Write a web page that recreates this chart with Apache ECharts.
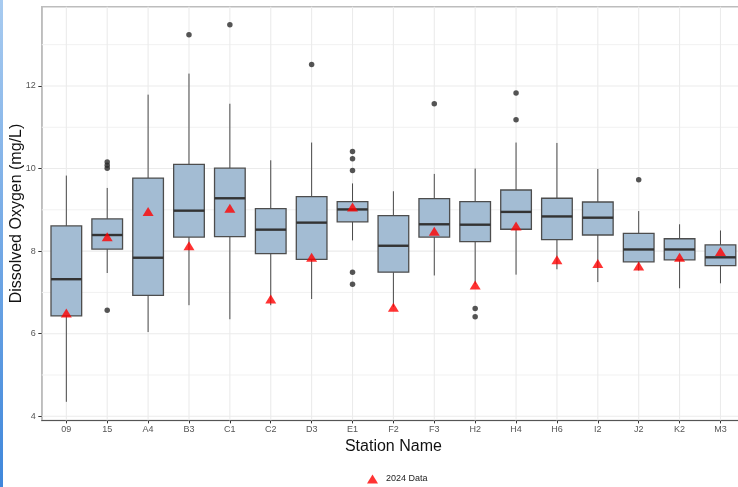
<!DOCTYPE html>
<html><head><meta charset="utf-8">
<script src="https://cdn.jsdelivr.net/npm/echarts@6/dist/echarts.min.js"></script>
<style>html,body{margin:0;padding:0;background:#fff}#c{width:738px;height:487px}</style>
</head><body><div id="c"></div><script>
const stations = ['09','15','A4','B3','C1','C2','D3','E1','F2','F3','H2','H4','H6','I2','J2','K2','M3'];
const whiskerLow  = [4.35,7.47,6.04,6.69,6.35,6.69,6.84,8.26,6.65,7.41,7.20,7.43,7.56,7.25,7.53,7.10,7.22];
const q1          = [6.43,8.05,6.93,8.34,8.35,7.94,7.80,8.71,7.49,8.34,8.23,8.53,8.28,8.39,7.74,7.79,7.65];
const median      = [7.32,8.39,7.84,8.98,9.28,8.52,8.69,9.01,8.13,8.65,8.64,8.95,8.84,8.81,8.04,8.04,7.85];
const q3          = [8.61,8.78,9.77,10.10,10.01,9.03,9.32,9.20,8.86,9.27,9.20,9.48,9.28,9.19,8.43,8.30,8.15];
const whiskerHigh = [9.83,9.53,11.79,12.30,11.57,10.20,10.63,9.64,9.45,9.87,10.00,10.63,10.62,9.99,8.97,8.65,8.50];
const outliers = [['15',10.16],['15',10.08],['15',10.01],['15',6.57],['B3',13.24],['C1',13.48],['D3',12.52],
  ['E1',10.41],['E1',10.24],['E1',9.95],['E1',7.49],['E1',7.20],['F3',11.57],['H2',6.61],['H2',6.41],
  ['H4',11.83],['H4',11.18],['J2',9.73]];
const data2024 = [6.50,8.35,8.96,8.13,9.04,6.84,7.85,9.07,6.64,8.48,7.18,8.61,7.79,7.70,7.64,7.85,7.99];
const yMajor = [4,6,8,10,12];
const yMinor = [5,7,9,11,13];

const FONT = '"Liberation Sans", Arial, sans-serif';
const idx = stations.map((s, i) => i);
const chart = echarts.init(document.getElementById('c'), null, {renderer: 'canvas'});

function hLine(color, width) {
  return function (params, api) {
    const cs = params.coordSys;
    const y = api.coord([0, api.value(1)])[1];
    return {type: 'line', shape: {x1: cs.x, y1: y, x2: cs.x + cs.width, y2: y},
      style: {stroke: color, lineWidth: width}};
  };
}
function vLine(params, api) {
  const cs = params.coordSys;
  const x = api.coord([api.value(0), 8])[0];
  return {type: 'line', shape: {x1: x, y1: cs.y, x2: x, y2: cs.y + cs.height},
    style: {stroke: '#ebebeb', lineWidth: 1.1}};
}
function renderBox(params, api) {
  const x = api.value(0);
  const lo = api.coord([x, api.value(1)]);
  const b1 = api.coord([x, api.value(2)]);
  const md = api.coord([x, api.value(3)]);
  const b3 = api.coord([x, api.value(4)]);
  const hi = api.coord([x, api.value(5)]);
  const w = api.size([0.75, 0])[0];
  const cx = lo[0];
  return {type: 'group', children: [
    {type: 'line', shape: {x1: cx, y1: hi[1], x2: cx, y2: b3[1]}, style: {stroke: '#4a4a4a', lineWidth: 1}},
    {type: 'line', shape: {x1: cx, y1: b1[1], x2: cx, y2: lo[1]}, style: {stroke: '#4a4a4a', lineWidth: 1}},
    {type: 'rect', shape: {x: cx - w / 2, y: b3[1], width: w, height: b1[1] - b3[1]},
      style: {fill: '#a3bcd3', stroke: '#4d4d4d', lineWidth: 1.3}},
    {type: 'line', shape: {x1: cx - w / 2, y1: md[1], x2: cx + w / 2, y2: md[1]},
      style: {stroke: '#333333', lineWidth: 2.4}}
  ]};
}

chart.setOption({
  animation: false,
  backgroundColor: '#ffffff',
  textStyle: {fontFamily: FONT},
  graphic: [{
    type: 'rect', left: 0, top: 0, z: 100,
    shape: {width: 3, height: 487},
    style: {fill: new echarts.graphic.LinearGradient(0, 0, 0, 1, [
      {offset: 0, color: '#a8cbf0'}, {offset: 1, color: '#3f87db'}])}
  }],
  grid: {left: 41.8, right: -7, top: 6.7, bottom: 66.6, show: true, containLabel: false,
    outerBoundsMode: 'none',
    borderColor: '#bdbdbd', borderWidth: 1.5, backgroundColor: 'transparent'},
  legend: {
    data: ['2024 Data'], left: 367, top: 474.5, padding: 0,
    icon: 'triangle', itemWidth: 11, itemHeight: 9,
    textStyle: {fontSize: 9, color: '#222', fontFamily: FONT, padding: [0, 0, 0, 3]}
  },
  xAxis: {
    type: 'value', min: -0.6, max: 16.6,
    name: 'Station Name', nameLocation: 'middle', nameGap: 18, nameMoveOverlap: false,
    nameTextStyle: {fontSize: 16, color: '#111', fontFamily: FONT},
    axisLine: {show: true, onZero: false, lineStyle: {color: '#555', width: 1.2}},
    axisTick: {show: true, length: 3, customValues: idx, lineStyle: {color: '#333'}},
    axisLabel: {customValues: idx, formatter: v => stations[Math.round(v)] || '',
      fontSize: 9, color: '#555', margin: 5, fontFamily: FONT},
    splitLine: {show: false}
  },
  yAxis: {
    type: 'value', min: 3.9, max: 13.92,
    name: 'Dissolved Oxygen (mg/L)', nameLocation: 'middle', nameGap: 17, nameMoveOverlap: false,
    nameTextStyle: {fontSize: 16, color: '#111', fontFamily: FONT},
    axisLine: {show: true, onZero: false, lineStyle: {color: '#bdbdbd', width: 1.5}},
    axisTick: {show: true, length: 3.5, customValues: yMajor, lineStyle: {color: '#333'}},
    axisLabel: {customValues: yMajor, fontSize: 9, color: '#555', margin: 6, fontFamily: FONT},
    splitLine: {show: false}
  },
  series: [
    {type: 'custom', silent: true, z: 1, data: yMinor.map(v => [0, v]), encode: {x: 0, y: 1},
      renderItem: hLine('#f1f1f1', 1)},
    {type: 'custom', silent: true, z: 1, data: yMajor.map(v => [0, v]), encode: {x: 0, y: 1},
      renderItem: hLine('#ebebeb', 1.1)},
    {type: 'custom', silent: true, z: 1, data: idx.map(i => [i, 8]), encode: {x: 0, y: 1},
      renderItem: vLine},
    {type: 'custom', z: 2, name: 'box',
      data: idx.map(i => [i, whiskerLow[i], q1[i], median[i], q3[i], whiskerHigh[i]]),
      encode: {x: 0, y: [1, 2, 3, 4, 5]}, renderItem: renderBox},
    {type: 'scatter', z: 3, name: 'outliers', symbolSize: 5.5,
      itemStyle: {color: '#2b2b2b'},
      data: outliers.map(o => [stations.indexOf(o[0]), o[1]])},
    {type: 'scatter', z: 4, name: '2024 Data', symbol: 'triangle', symbolSize: [11, 9],
      itemStyle: {color: '#ff0000'},
      data: data2024.map((v, i) => [i, v])}
  ]
});
</script></body></html>
